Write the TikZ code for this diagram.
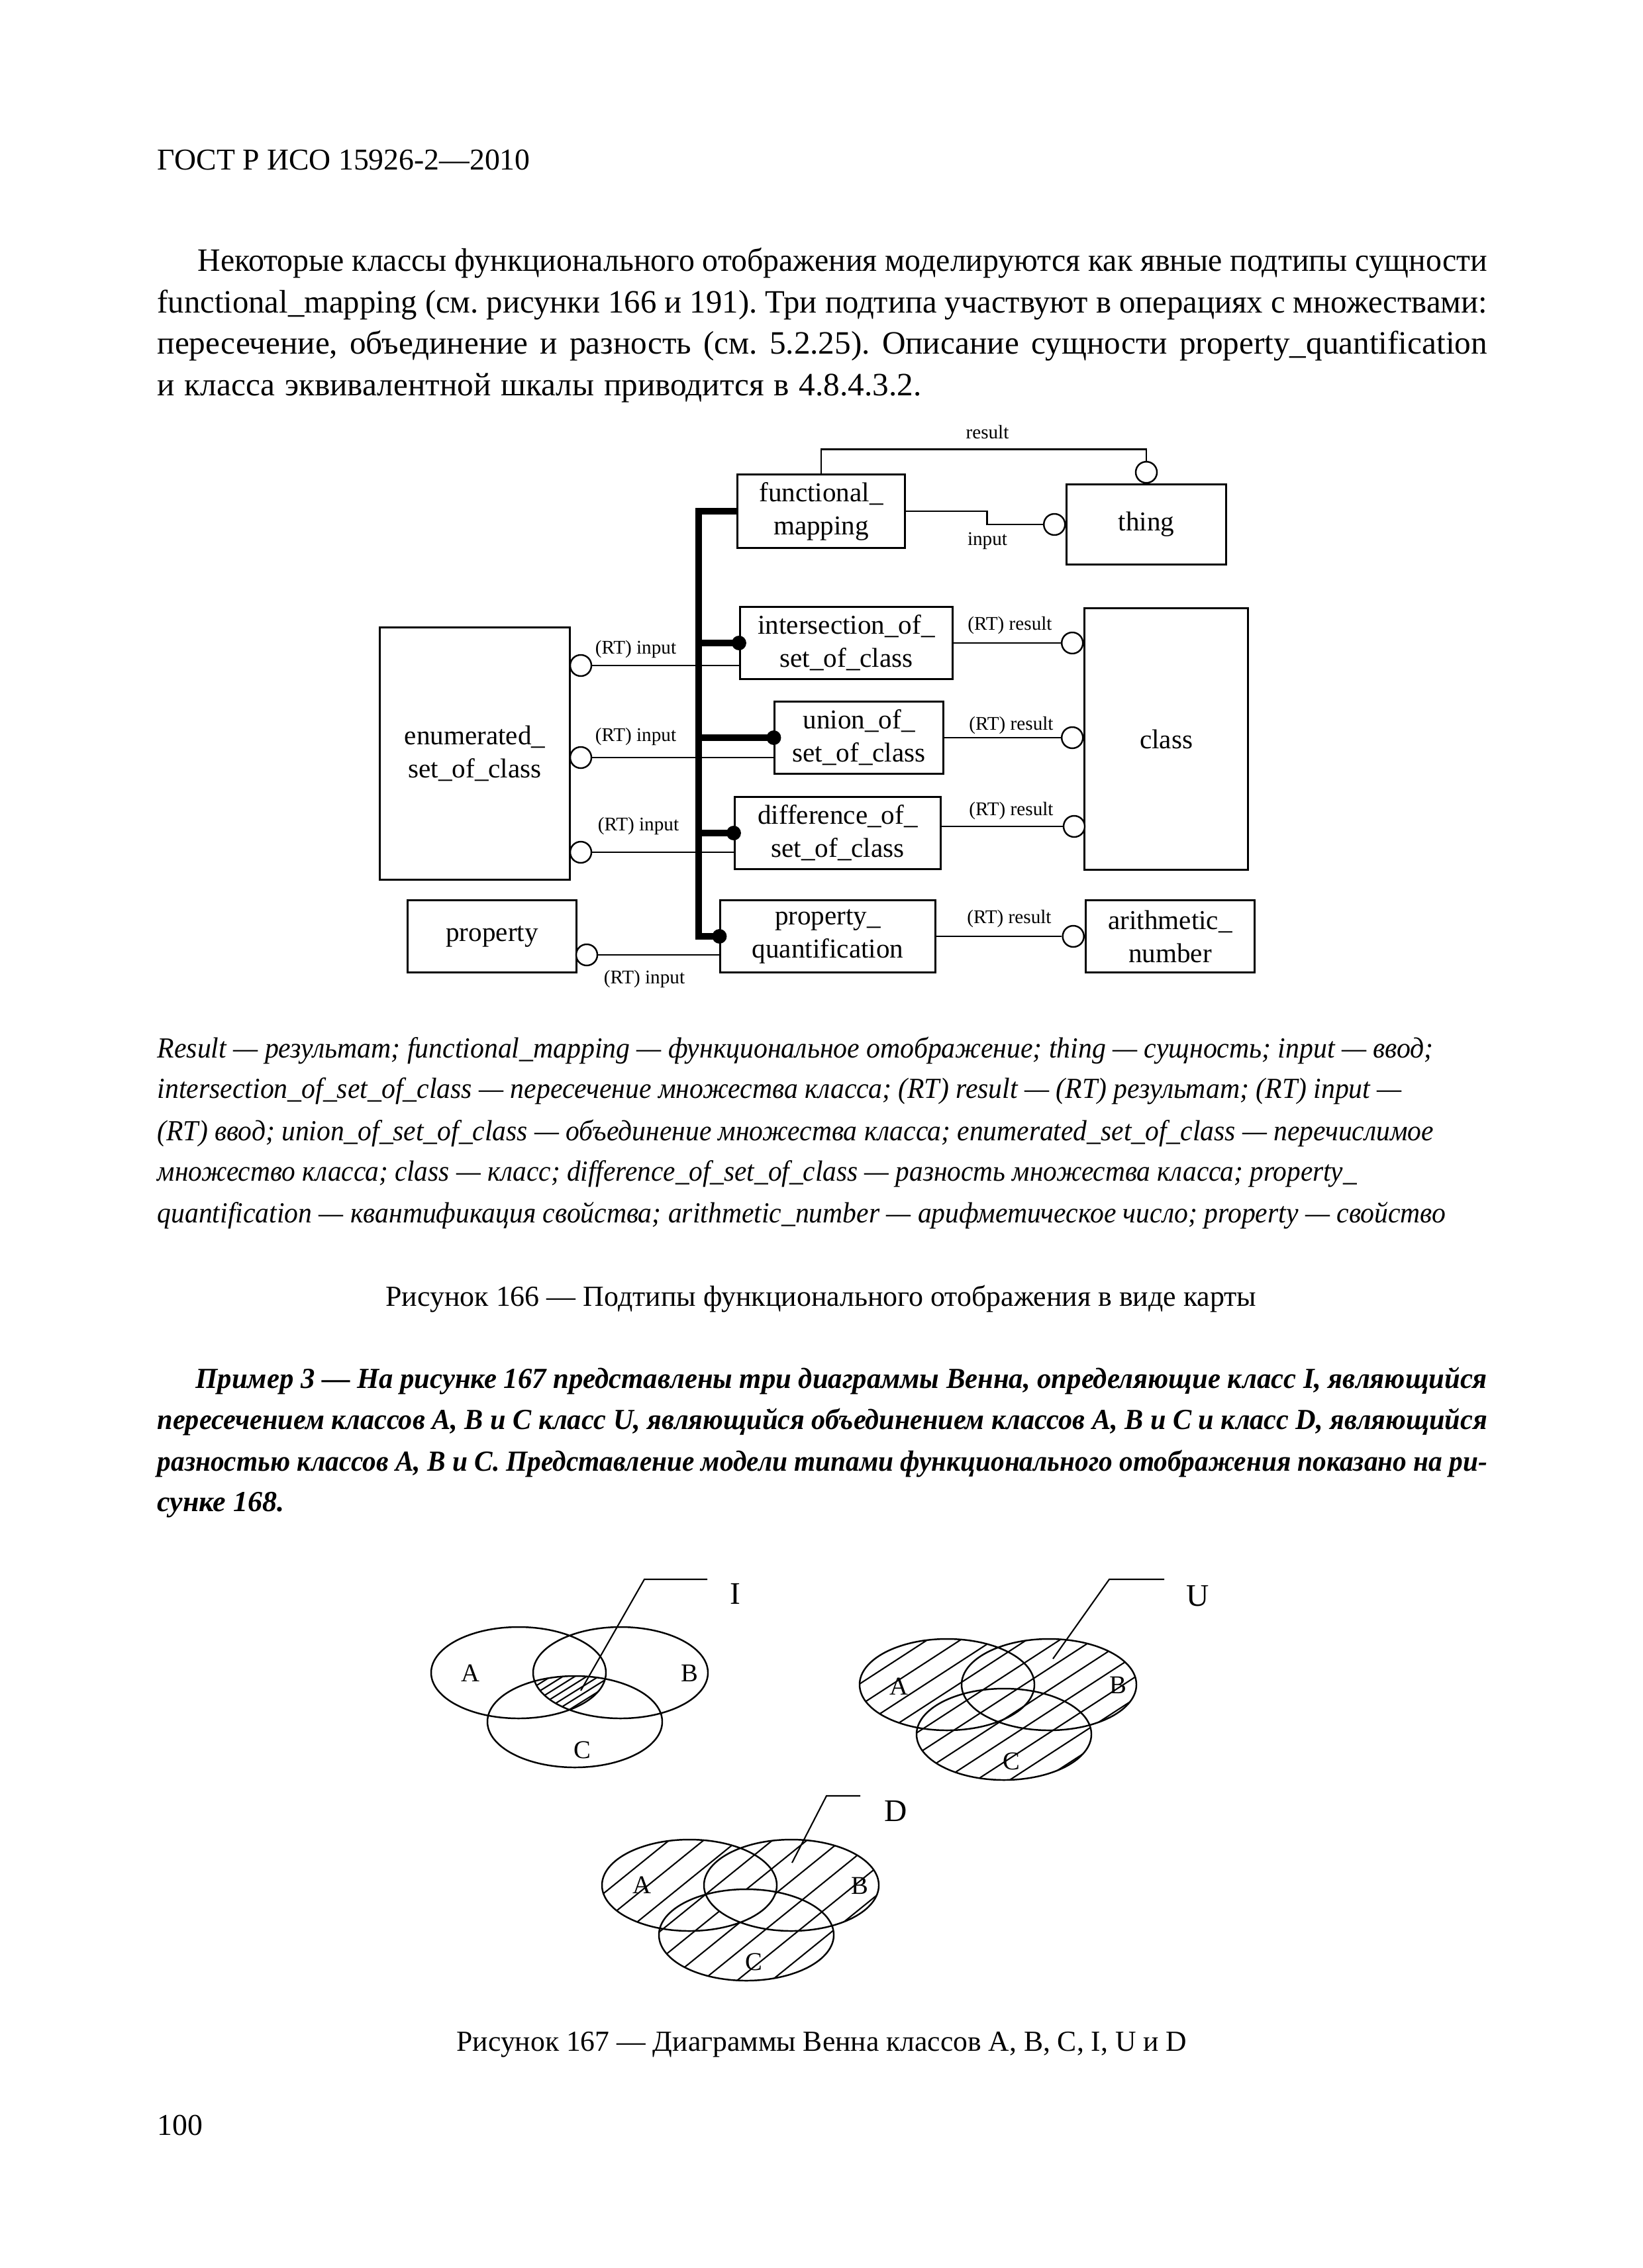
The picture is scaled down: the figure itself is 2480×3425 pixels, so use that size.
\documentclass[tikz,border=0pt]{standalone}
\usepackage{fontspec}
\setmainfont{Liberation Serif}
\usepackage{graphicx}
\usetikzlibrary{positioning}
\frenchspacing

\newcommand\bodyfont{\fontsize{14}{17}\selectfont}
\newcommand\hdrfont{\fontsize{13}{16}\selectfont}
\newcommand\legfont{\fontsize{12.5}{15}\selectfont\itshape}
\newcommand\exfont{\fontsize{12.5}{15}\selectfont\bfseries\itshape}
\newcommand\capfont{\fontsize{12.5}{15}\selectfont}
\newcommand\boxfont{\fontsize{11.7}{14.2}\selectfont}
\newcommand\lblfont{\fontsize{8.3}{10}\selectfont}
\newcommand\vnfont{\fontsize{11}{13}\selectfont}
\newcommand\vnbig{\fontsize{13.5}{16}\selectfont}

% one printed line, spread (or squeezed) to the given width
\newsavebox\lnbox
\newcommand\jline[2]{\sbox\lnbox{#2}\ifdim\wd\lnbox>#1\relax\resizebox{#1}{\height}{\usebox\lnbox}\else\makebox[#1][s]{#2}\fi}

\begin{document}
\begin{tikzpicture}[x=0.01cm, y=-0.01cm,
  box/.style={draw, line width=0.85pt, align=center, font=\boxfont, inner sep=0pt},
  oc/.style={draw, circle, line width=0.7pt, minimum size=0.32cm, inner sep=0pt, fill=white},
  wire/.style={line width=0.7pt},
  bus/.style={line width=3.1pt},
  lbl/.style={font=\lblfont, inner sep=0pt},
  txt/.style={anchor=base west, inner sep=0pt},
  ctr/.style={anchor=base, inner sep=0pt},
  venn/.style={line width=0.7pt},
  hatch/.style={line width=0.6pt},
  lead/.style={line width=0.6pt},
  vl/.style={font=\vnfont, inner sep=0pt},
  vbig/.style={font=\vnbig, inner sep=0pt}
]
  \path[use as bounding box, fill=white] (0,0) rectangle (2480,3425);

  % page text
  \node[txt, font=\hdrfont] (hdr) at (237,257) {ГОСТ Р ИСО 15926-2—2010};
  \node[txt, font=\bodyfont] (p1) at (298,410) {\jline{19.46cm}{Некоторые классы функционального отображения моделируются как явные подтипы сущности}};
  \node[txt, font=\bodyfont] (p2) at (237,473) {\jline{20.07cm}{functional\_mapping (см. рисунки 166 и 191). Три подтипа участвуют в операциях с множествами:}};
  \node[txt, font=\bodyfont] (p3) at (237,535) {\jline{20.07cm}{пересечение, объединение и разность (см. 5.2.25). Описание сущности property\_quantification}};
  \node[txt, font=\bodyfont] (p4) at (237,598) {\jline{11.53cm}{и класса эквивалентной шкалы приводится в 4.8.4.3.2.}};

  % boxes
  \node[box, minimum width=2.52cm, minimum height=1.10cm] (fm) at (1240,772) {functional\_\\mapping};
  \node[box, minimum width=2.40cm, minimum height=1.20cm] (thing) at (1731,792) {thing};
  \node[box, minimum width=3.21cm, minimum height=1.09cm] (inter) at (1278,971) {intersection\_of\_\\set\_of\_class};
  \node[box, minimum width=2.54cm, minimum height=1.09cm] (union) at (1297,1114) {union\_of\_\\set\_of\_class};
  \node[box, minimum width=3.11cm, minimum height=1.09cm] (diff) at (1265,1258) {difference\_of\_\\set\_of\_class};
  \node[box, minimum width=3.24cm, minimum height=1.08cm] (pq) at (1250,1414) {property\_\\quantification};
  \node[box, minimum width=2.87cm, minimum height=3.81cm] (enum) at (717,1138) {enumerated\_\\set\_of\_class};
  \node[box, minimum width=2.54cm, minimum height=1.08cm] (prop) at (743,1414) {property};
  \node[box, minimum width=2.46cm, minimum height=3.95cm] (cls) at (1761,1116) {class};
  \node[box, minimum width=2.55cm, minimum height=1.08cm] (arith) at (1767,1414) {arithmetic\_\\number};

  % open circles
  \node[oc, anchor=south] (cres) at (thing.north) {};
  \node[oc, anchor=east] (cinp) at (thing.west) {};
  \node[oc] (ei1) at (877,1005) {};
  \node[oc] (ei2) at (877,1144) {};
  \node[oc] (ei3) at (877,1287) {};
  \node[oc] (pi) at (886,1442) {};
  \node[oc, anchor=east] (cr1) at (inter.east -| cls.west) {};
  \node[oc, anchor=east] (cr2) at (union.east -| cls.west) {};
  \node[oc] (cr3) at (1622,1248) {};
  \node[oc, anchor=east] (cr4) at (pq.east -| arith.west) {};

  % subtype bus
  \coordinate (busx) at (1055,0);
  \draw[bus] (fm.west) -| (busx |- pq.west) -- (pq.west);
  \draw[bus] (busx |- inter.west) -- (inter.west);
  \draw[bus] (busx |- union.west) -- (union.west);
  \draw[bus] (busx |- diff.west) -- (diff.west);
  \foreach \b in {inter, union, diff, pq}
    \fill (\b.west) circle[radius=11];

  % relations
  \draw[wire] (fm.north) -- ++(0,-37) -| (cres.north);
  \draw[wire] (fm.east) -- ++(123,0) |- (cinp.west);
  \draw[wire] (ei1) -- (ei1 -| inter.west);
  \draw[wire] (ei2) -- (ei2 -| union.west);
  \draw[wire] (ei3) -- (ei3 -| diff.west);
  \draw[wire] (pi) -- (pi -| pq.west);
  \draw[wire] (inter.east) -- (cr1);
  \draw[wire] (union.east) -- (cr2);
  \draw[wire] (cr3 -| diff.east) -- (cr3);
  \draw[wire] (pq.east) -- (cr4);

  \node[lbl] (lres) at (1491,653) {result};
  \node[lbl] (linp) at (1491,817) {input};
  \node[lbl] (li1) at (960,980) {(RT) input};
  \node[lbl] (li2) at (960,1112) {(RT) input};
  \node[lbl] (li3) at (964,1247) {(RT) input};
  \node[lbl] (li4) at (973,1478) {(RT) input};
  \node[lbl] (lr1) at (1525,944) {(RT) result};
  \node[lbl] (lr2) at (1527,1095) {(RT) result};
  \node[lbl] (lr3) at (1527,1224) {(RT) result};
  \node[lbl] (lr4) at (1524,1387) {(RT) result};

  % legend and caption
  \node[txt, font=\legfont] (lg1) at (237,1597) {\jline{19.26cm}{Result — результат; functional\_mapping — функциональное отображение; thing — сущность; input — ввод;}};
  \node[txt, font=\legfont] (lg2) at (237,1658) {\jline{18.78cm}{intersection\_of\_set\_of\_class — пересечение множества класса; (RT) result — (RT) результат; (RT) input —}};
  \node[txt, font=\legfont] (lg3) at (237,1722) {\jline{19.26cm}{(RT) ввод; union\_of\_set\_of\_class — объединение множества класса; enumerated\_set\_of\_class — перечислимое}};
  \node[txt, font=\legfont] (lg4) at (237,1783) {\jline{18.10cm}{множество класса; class — класс; difference\_of\_set\_of\_class — разность множества класса; property\_}};
  \node[txt, font=\legfont] (lg5) at (237,1846) {\jline{19.44cm}{quantification — квантификация свойства; arithmetic\_number — арифметическое число; property — свойство}};
  \node[ctr, font=\capfont] (cap1) at (1240,1972) {\jline{13.14cm}{Рисунок 166 — Подтипы функционального отображения в виде карты}};

  % example
  \node[txt, font=\exfont] (ex1) at (295,2096) {\jline{19.49cm}{Пример 3 — На рисунке 167 представлены три диаграммы Венна, определяющие класс I, являющийся}};
  \node[txt, font=\exfont] (ex2) at (237,2158) {\jline{20.07cm}{пересечением классов A, B и C класс U, являющийся объединением классов A, B и C и класс D, являющийся}};
  \node[txt, font=\exfont] (ex3) at (237,2221) {\jline{20.07cm}{разностью классов A, B и C. Представление модели типами функционального отображения показано на ри-}};
  \node[txt, font=\exfont] (ex4) at (237,2282) {сунке 168.};

  % Venn I
  \begin{scope}[shift={(783,2526)}]
    \begin{scope}
      \clip (0,0) ellipse [x radius=132, y radius=69];
      \clip (154,0) ellipse [x radius=132, y radius=69];
      \clip (85,74) ellipse [x radius=132, y radius=69];
      \foreach \k in {0,...,25}
        \draw[hatch] ({-200+\k*18},150) -- ++(400,{-400*tan(32)});
    \end{scope}
    \draw[venn] (0,0) ellipse [x radius=132, y radius=69]
      (154,0) ellipse [x radius=132, y radius=69]
      (85,74) ellipse [x radius=132, y radius=69];
    \draw[lead] (94,27) -- (190,-141) -- (285,-141);
    \node[vl] (iA) at (-73,1) {A};
    \node[vl] (iB) at (258,1) {B};
    \node[vl] (iC) at (96,117) {C};
    \node[vbig] (iI) at (327,-119) {I};
  \end{scope}

  % Venn U
  \begin{scope}[shift={(1430,2544)}]
    \begin{scope}
      \clip (0,0) ellipse [x radius=132, y radius=69]
        (154,0) ellipse [x radius=132, y radius=69]
        (86,75) ellipse [x radius=132, y radius=69];
      \foreach \k in {0,...,16}
        \draw[hatch] ({-480+\k*50},160) -- ++(600,{-600*tan(33)});
    \end{scope}
    \draw[venn] (0,0) ellipse [x radius=132, y radius=69]
      (154,0) ellipse [x radius=132, y radius=69]
      (86,75) ellipse [x radius=132, y radius=69];
    \draw[lead] (160,-39) -- (245,-159) -- (328,-159);
    \node[vl] (uA) at (-73,3) {A};
    \node[vl] (uB) at (258,1) {B};
    \node[vl] (uC) at (97,116) {C};
    \node[vbig] (uU) at (379,-134) {U};
  \end{scope}

  % Venn D
  \begin{scope}[shift={(1041,2847)}]
    \begin{scope}
      \clip (0,0) ellipse [x radius=132, y radius=69]
        (154,0) ellipse [x radius=132, y radius=69]
        (86,75) ellipse [x radius=132, y radius=69];
      \foreach \k in {0,...,15}
        \draw[hatch] ({-416+\k*52},160) -- ++(500,{-500*tan(39)});
    \end{scope}
    \begin{scope}
      \clip (0,0) ellipse [x radius=132, y radius=69];
      \clip (154,0) ellipse [x radius=132, y radius=69];
      \fill[white] (86,75) ellipse [x radius=132, y radius=69];
    \end{scope}
    \draw[venn] (0,0) ellipse [x radius=132, y radius=69]
      (154,0) ellipse [x radius=132, y radius=69]
      (86,75) ellipse [x radius=132, y radius=69];
    \draw[lead] (155,-34) -- (207,-135) -- (258,-135);
    \node[vl] (dA) at (-72,0) {A};
    \node[vl] (dB) at (257,1) {B};
    \node[vl] (dC) at (97,116) {C};
    \node[vbig] (dD) at (312,-112) {D};
  \end{scope}

  \node[ctr, font=\capfont] (cap2) at (1241,3097) {\jline{11.02cm}{Рисунок 167 — Диаграммы Венна классов A, B, C, I, U и D}};
  \node[txt, font=\hdrfont] (pgno) at (237,3224) {100};
\end{tikzpicture}
\end{document}
